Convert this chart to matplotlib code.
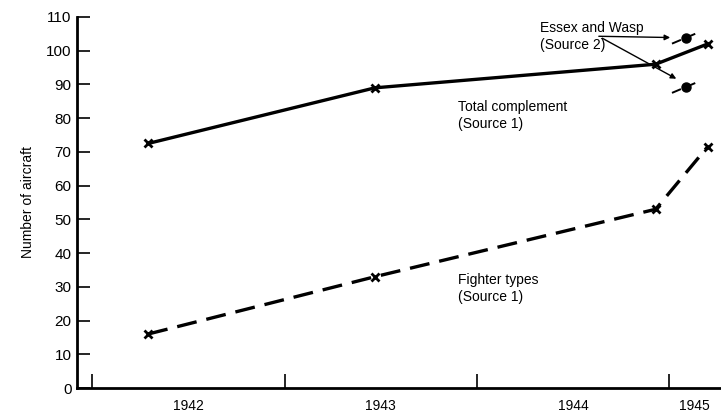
import matplotlib.pyplot as plt

plt.rcParams['font.family'] = ['Liberation Sans', 'DejaVu Sans']

# year positions as fraction of calendar year
years = [1942.29, 1943.47, 1944.93, 1945.20]
total = [72.5, 89, 96, 102]
fighters = [16, 33, 53, 71.5]

essex_year = 1945.09
essex_vals = [103.8, 89.2]

year_labels = ['1942', '1943', '1944', '1945']
year_label_pos = [1942.5, 1943.5, 1944.5, 1945.13]

fig = plt.figure(figsize=(7.21, 4.13), dpi=100)
ax = fig.add_axes([77 / 721, 1 - 388 / 413, 1 - 77 / 721, (388 - 17) / 413])

ax.plot(years, total, color='black', lw=2.4, marker='x', ms=6, mew=2)
ax.plot(years, fighters, color='black', lw=2.4, ls=(0, (6, 3)), marker='x', ms=6, mew=2)

# Essex and Wasp points with short dashed segments
for v in essex_vals:
    ax.plot([essex_year - 0.075, essex_year + 0.07], [v - 1.7, v + 1.8],
            color='black', lw=1.4, ls=(0, (5, 3)))
    ax.plot(essex_year, v, 'o', color='black', ms=6.5)

ax.text(1944.33, 104.3, 'Essex and Wasp\n(Source 2)', fontsize=10, ha='left', va='center',
        linespacing=1.25)
ax.annotate('', xy=(1945.02, 103.9), xytext=(1944.62, 104.3),
            arrowprops=dict(arrowstyle='-|>', color='black', lw=1, mutation_scale=8))
ax.annotate('', xy=(1945.05, 91.3), xytext=(1944.64, 104.1),
            arrowprops=dict(arrowstyle='-|>', color='black', lw=1, mutation_scale=8))

ax.text(1943.9, 80.8, 'Total complement\n(Source 1)', fontsize=10, ha='left', va='center',
        linespacing=1.25)
ax.text(1943.9, 29.5, 'Fighter types\n(Source 1)', fontsize=10, ha='left', va='center',
        linespacing=1.25)

ax.set_xlim(1941.92, 1945.27)
ax.set_ylim(0, 110)
ax.set_yticks(range(0, 111, 10))
ax.set_xticks([1942, 1943, 1944, 1945])
ax.set_xticklabels([])
for lab, pos in zip(year_labels, year_label_pos):
    ax.text(pos, -5.2, lab, ha='center', va='center', fontsize=10)

ax.tick_params(axis='both', direction='in', width=1.2, labelsize=11)
ax.tick_params(axis='y', length=9, pad=4)
ax.tick_params(axis='x', length=10)
for side in ['top', 'right']:
    ax.spines[side].set_visible(False)
for side in ['left', 'bottom']:
    ax.spines[side].set_linewidth(2)

ax.set_ylabel('Number of aircraft', fontsize=10, labelpad=8)

fig.savefig('out.png', dpi=100)
